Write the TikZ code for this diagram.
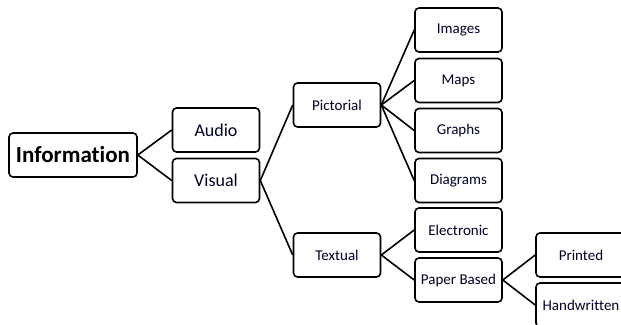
\documentclass[tikz,border=0pt]{standalone}
\usepackage{fontspec}
\setmainfont[Ligatures=NoCommon]{Carlito}
\begin{document}
\begin{tikzpicture}[x=1pt,y=-1pt,
  box/.style={draw=black,line width=1.6pt,rounded corners=4pt,fill=white,inner sep=0pt,
    minimum width=87pt,minimum height=44pt,align=center,text=black!85!blue},
  link/.style={draw=black,line width=1.6pt}]
\clip (0,0) rectangle (621,324);
\fill[white] (0,0) rectangle (621,324);
\node[box,minimum width=128pt,font=\fontsize{23}{26}\selectfont\bfseries,text=black] (info) at (73,155) {Information};
\node[box,font=\fontsize{18}{21}\selectfont] (audio) at (216,130) {Audio};
\node[box,font=\fontsize{18}{21}\selectfont] (visual) at (216,180.5) {Visual};
\node[box,font=\fontsize{15}{18}\selectfont] (pict) at (337,105) {Pictorial};
\node[box,font=\fontsize{15}{18}\selectfont] (text) at (337,255) {Textual};
\node[box,font=\fontsize{15}{18}\selectfont] (img) at (458.5,30) {Images};
\node[box,font=\fontsize{15}{18}\selectfont] (maps) at (458.5,80.5) {Maps};
\node[box,font=\fontsize{15}{18}\selectfont] (graphs) at (458.5,130.5) {Graphs};
\node[box,font=\fontsize{15}{18}\selectfont] (diag) at (458.5,180.5) {Diagrams};
\node[box,font=\fontsize{15}{18}\selectfont] (elec) at (458.5,230) {Electronic};
\node[box,font=\fontsize{15}{18}\selectfont] (paper) at (458.5,280) {Paper Based};
\node[box,minimum width=90pt,font=\fontsize{15}{18}\selectfont] (print) at (581,255) {Printed};
\node[box,minimum width=90pt,font=\fontsize{15}{18}\selectfont] (hand) at (581,305) {Handwritten};
\draw[link] (info.east) -- (audio.west);
\draw[link] (info.east) -- (visual.west);
\draw[link] (visual.east) -- (pict.west);
\draw[link] (visual.east) -- (text.west);
\foreach \n in {img,maps,graphs,diag} \draw[link] (pict.east) -- (\n.west);
\draw[link] (text.east) -- (elec.west);
\draw[link] (text.east) -- (paper.west);
\draw[link] (paper.east) -- (print.west);
\draw[link] (paper.east) -- (hand.west);
\end{tikzpicture}
\end{document}
